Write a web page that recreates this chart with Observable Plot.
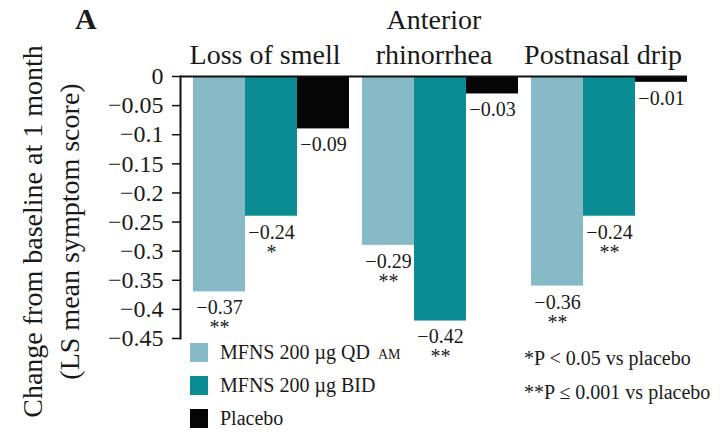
<!DOCTYPE html>
<html>
<head>
<meta charset="utf-8">
<script src="https://cdn.jsdelivr.net/npm/d3@7"></script>
<script src="https://cdn.jsdelivr.net/npm/@observablehq/plot@0.6"></script>
<style>
  body { margin: 0; background: #fff; }
  #fig { position: relative; width: 728px; height: 448px; font-family: "Liberation Serif", "Times New Roman", serif; color: #1a1a1a; }
  #fig svg { position: absolute; left: 0; top: 0; }
  .panel { position: absolute; left: 75px; top: 2px; font-size: 30px; font-weight: bold; line-height: 34px; }
  .legend { position: absolute; left: 190px; top: 336px; font-size: 20px; }
  .legend .row { display: flex; align-items: center; height: 33px; }
  .legend .sw { width: 18px; height: 19px; margin-right: 12px; }
  .legend .small { font-size: 14px; margin-left: 8px; }
  .notes { position: absolute; left: 524px; top: 341px; font-size: 20px; line-height: 34px; white-space: nowrap; }
</style>
</head>
<body>
<div id="fig"></div>
<script>
// Symptom groups and their axis labels
const symptoms = ["Loss of smell", "Anterior rhinorrhea", "Postnasal drip"];
const symptomLabels = ["Loss of smell", "Anterior\nrhinorrhea", "Postnasal drip"];

// Treatment arms and their fills
const treatments = ["MFNS 200 µg QD AM", "MFNS 200 µg BID", "Placebo"];
const treatmentColors = ["#86bac6", "#0b8c94", "#050505"];

// LS mean change from baseline at 1 month, per symptom
const qdValues = [-0.37, -0.29, -0.36];
const bidValues = [-0.24, -0.42, -0.24];
const placeboValues = [-0.09, -0.03, -0.01];

// Significance markers vs placebo
const qdStars = ["**", "**", "**"];
const bidStars = ["*", "**", "**"];
const placeboStars = ["", "", ""];

const yTicks = [0, -0.05, -0.1, -0.15, -0.2, -0.25, -0.3, -0.35, -0.4, -0.45];
const yTitle = "Change from baseline at 1 month\n(LS mean symptom score)";
const footnotes = ["*P < 0.05 vs placebo", "**P \u2264 0.001 vs placebo"];

const rows = symptoms.flatMap((s, i) => [
  {symptom: s, treatment: treatments[0], value: qdValues[i], stars: qdStars[i]},
  {symptom: s, treatment: treatments[1], value: bidValues[i], stars: bidStars[i]},
  {symptom: s, treatment: treatments[2], value: placeboValues[i], stars: placeboStars[i]}
]);

const serif = '"Liberation Serif", "Times New Roman", serif';
const fmt = d3.format(".2f");

const chart = Plot.plot({
  width: 728,
  height: 448,
  marginTop: 76,
  marginBottom: 110,
  marginLeft: 179,
  marginRight: 40,
  style: {fontFamily: serif, color: "#1a1a1a", background: "transparent", overflow: "visible"},
  fx: {domain: symptoms, padding: 0},
  x: {domain: treatments, padding: 0, insetLeft: 13, axis: null},
  y: {domain: [-0.45, 0]},
  color: {domain: treatments, range: treatmentColors},
  marks: [
    Plot.barY(rows, {fx: "symptom", x: "treatment", y1: 0, y2: "value", fill: "treatment"}),
    Plot.ruleY([0], {stroke: "#111", strokeWidth: 2}),
    Plot.frame({anchor: "left", facetAnchor: "left", stroke: "#111", strokeWidth: 2}),
    Plot.axisY({
      ticks: yTicks,
      tickSize: 8,
      tickPadding: 9,
      fontSize: 24,
      strokeWidth: 1.5,
      stroke: "#111",
      label: null,
      tickFormat: d => d === 0 ? "0" : d3.format("")(d)
    }),
    Plot.axisFx({
      anchor: "top",
      tickSize: 0,
      tickPadding: 13,
      fontSize: 28,
      lineHeight: 1.25,
      label: null,
      tickFormat: d => symptomLabels[symptoms.indexOf(d)]
    }),
    Plot.text(rows, {fx: "symptom", x: "treatment", y: "value", text: d => fmt(d.value), dy: 16, fontSize: 20, lineAnchor: "middle", fill: "#1a1a1a"}),
    Plot.text(rows, {fx: "symptom", x: "treatment", y: "value", text: "stars", dy: 36, fontSize: 20, lineAnchor: "middle", fill: "#1a1a1a"}),
    Plot.text([yTitle], {
      text: d => d,
      frameAnchor: "left",
      facetAnchor: "left",
      textAnchor: "middle",
      rotate: -90,
      dx: -132,
      dy: 24,
      fontSize: 28,
      lineHeight: 1.35,
      lineAnchor: "middle",
      fill: "#1a1a1a"
    })
  ]
});

const fig = document.getElementById("fig");
fig.appendChild(chart);

// Panel letter
const panel = document.createElement("div");
panel.className = "panel";
panel.textContent = "A";
fig.appendChild(panel);

// Swatch legend for the treatment arms
const legend = document.createElement("div");
legend.className = "legend";
treatments.forEach((t, i) => {
  const row = document.createElement("div");
  row.className = "row";
  const sw = document.createElement("div");
  sw.className = "sw";
  sw.style.background = treatmentColors[i];
  row.appendChild(sw);
  const label = document.createElement("span");
  if (t.endsWith(" AM")) {
    label.textContent = t.slice(0, -3);
    const am = document.createElement("span");
    am.className = "small";
    am.textContent = "AM";
    label.appendChild(am);
  } else {
    label.textContent = t;
  }
  row.appendChild(label);
  legend.appendChild(row);
});
fig.appendChild(legend);

// Significance footnotes
const notes = document.createElement("div");
notes.className = "notes";
footnotes.forEach(n => {
  const line = document.createElement("div");
  line.textContent = n;
  notes.appendChild(line);
});
fig.appendChild(notes);
</script>
</body>
</html>
